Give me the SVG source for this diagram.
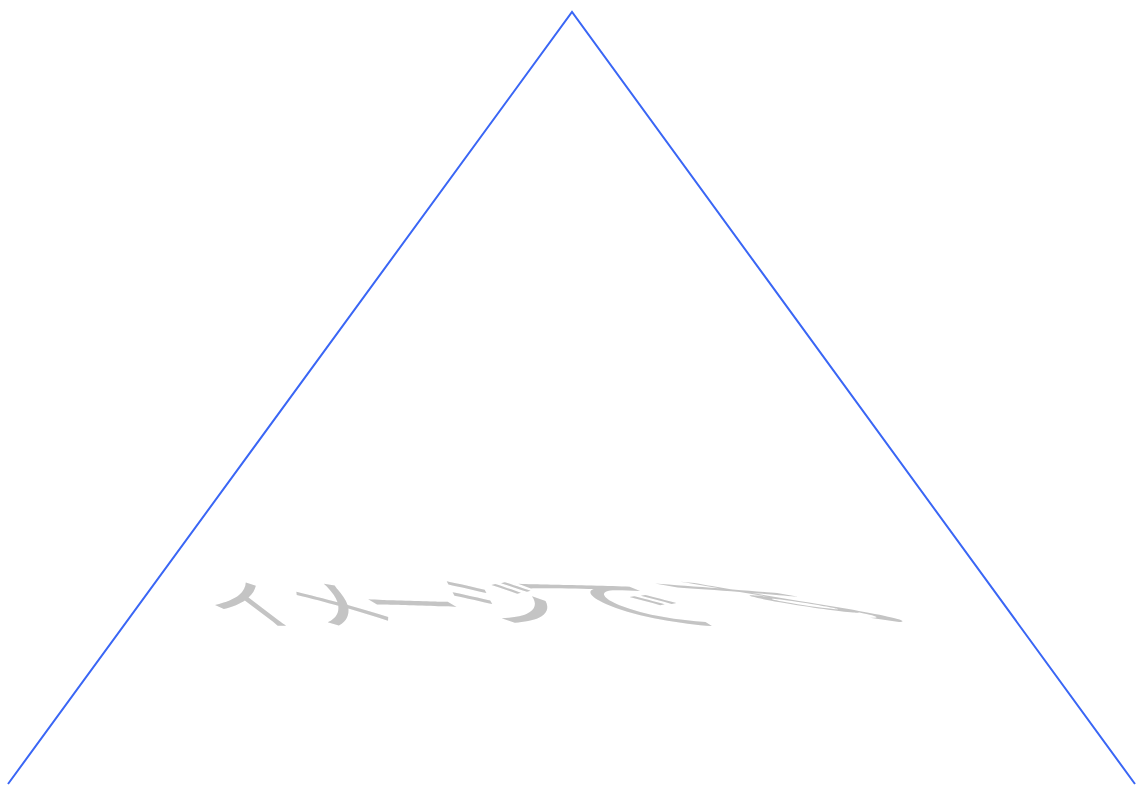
<svg xmlns="http://www.w3.org/2000/svg" width="1136" height="785" viewBox="0 0 1136 785">
<style>
.tri{fill:none;stroke:#3a66f5;stroke-width:2}
.t{font-family:"Noto Sans CJK JP","Noto Sans",sans-serif;font-size:100px;fill:#c4c4c4}
</style>
<rect width="1136" height="785" fill="#ffffff"/>
<g id="triangle">
<polyline class="tri" points="8,784 572,12 1135,784"/>
</g>
<g id="label">
<text class="t" transform="matrix(0.85,0,0.7,0.53,233,624)">イ</text>
<text class="t" transform="matrix(0.9,0,0.8,0.53,320,624)">メ</text>
<text class="t" transform="matrix(1.0,0.03,0.9,0.53,397,622)">ー</text>
<text class="t" transform="matrix(1.1,0.05,1.0,0.53,491,620)">ジ</text>
<text class="t" transform="matrix(1.5,0.08,1.3,0.53,592,618)">で</text>
<text class="t" transform="matrix(1.5,0.12,2.9,0.5,830,615)">す</text>
</g>
</svg>
